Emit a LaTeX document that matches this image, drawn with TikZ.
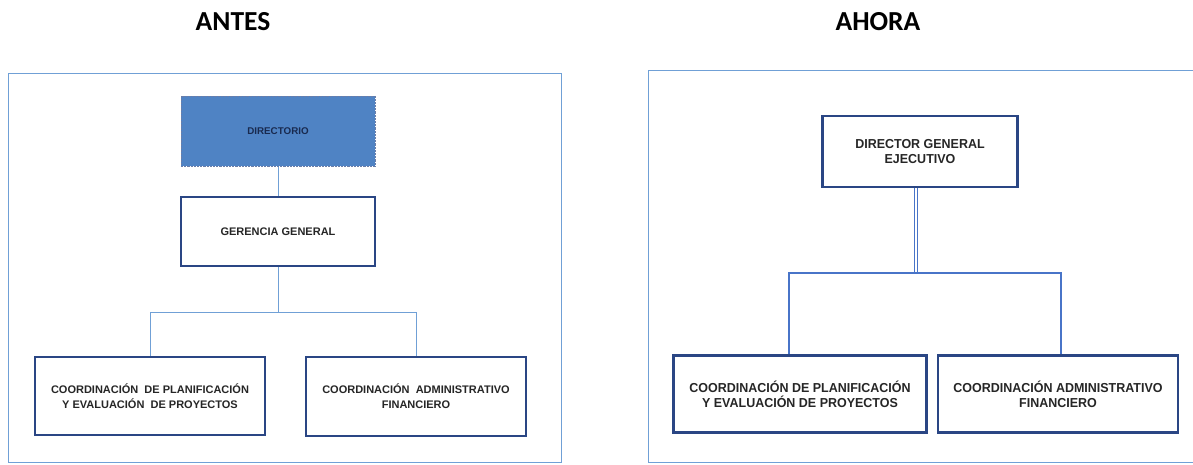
\documentclass[tikz,border=0pt]{standalone}
\usepackage{fontspec}
\setmainfont{Liberation Sans}
\newfontfamily\headfont{Carlito}
\newfontfamily\narrowfont[FakeStretch=0.96]{Liberation Sans}
\usetikzlibrary{positioning}
\definecolor{framec}{RGB}{112,160,214}
\definecolor{navy}{RGB}{42,70,132}
\definecolor{dirfill}{RGB}{79,131,196}
\definecolor{linkc}{RGB}{72,116,200}
\tikzset{head/.style = {font=\headfont\bfseries\fontsize{27.5}{30}\selectfont},
  box/.style = {draw=navy, line width=2.2pt, fill=white, rectangle, inner sep=0pt,
    align=center, text=black!85, font=\bfseries\fontsize{11}{15}\selectfont},
  bigbox/.style = {box, line width=2.8pt, font=\narrowfont\bfseries\fontsize{13}{15}\selectfont},
  panel/.style = {draw=framec, line width=1pt},
  conn/.style = {draw=framec, line width=0.8pt},
  rconn/.style = {draw=linkc, line width=1.4pt}}

\begin{document}
\begin{tikzpicture}[x=1pt, y=-1pt]
      \useasboundingbox[fill=white] (0,0) rectangle (1193,464);
      % antes
      \node[head] (antes) at (233,22) {ANTES};
      \draw[panel] (8.5,73) rectangle (561,462);
      \node[box, draw=navy!70, densely dotted, line width=1pt, fill=dirfill, text=navy!60!black,
        minimum width=194, minimum height=70, font=\bfseries\fontsize{9.8}{12}\selectfont]
        (dir) at (278,131) {DIRECTORIO};
      \node[box, minimum width=194, minimum height=69] (ger) at (278,231.5) {GERENCIA GENERAL};
      \node[box, minimum width=230, minimum height=78] (plan) at (150,396)
        {COORDINACIÓN \ DE PLANIFICACIÓN\\Y EVALUACIÓN \ DE PROYECTOS};
      \node[box, minimum width=220, minimum height=79] (adm) at (416,396.5)
        {COORDINACIÓN \ ADMINISTRATIVO\\FINANCIERO};
      \coordinate (lsplit) at (278,312);
      \draw[conn] (dir.south) -- (ger.north);
      \draw[conn] (ger.south) -- (lsplit) -| (plan.north);
      \draw[conn] (lsplit) -| (adm.north);
      % ahora
      \node[head] (ahora) at (878,22) {AHORA};
      \draw[panel] (1195,70) -- (648,70) -- (648,462) -- (1195,462);
      \node[bigbox, minimum width=195, minimum height=71] (dge) at (920,151.5)
        {DIRECTOR GENERAL\\EJECUTIVO};
      \node[bigbox, minimum width=253, minimum height=77] (rplan) at (800,394)
        {COORDINACIÓN DE PLANIFICACIÓN\\Y EVALUACIÓN DE PROYECTOS};
      \node[bigbox, minimum width=240, minimum height=77] (radm) at (1058,394)
        {COORDINACIÓN ADMINISTRATIVO\\FINANCIERO};
      \coordinate (rsplit) at (916,273);
      \draw[draw=linkc, line width=0.8pt, double=white, double distance=2.2pt]
        ([xshift=-4pt]dge.south) -- (rsplit);
      \draw[rconn] (rsplit) -| ([xshift=-11pt]rplan.north);
      \draw[rconn] (rsplit) -| ([xshift=3pt]radm.north);
    \end{tikzpicture}
\end{document}
